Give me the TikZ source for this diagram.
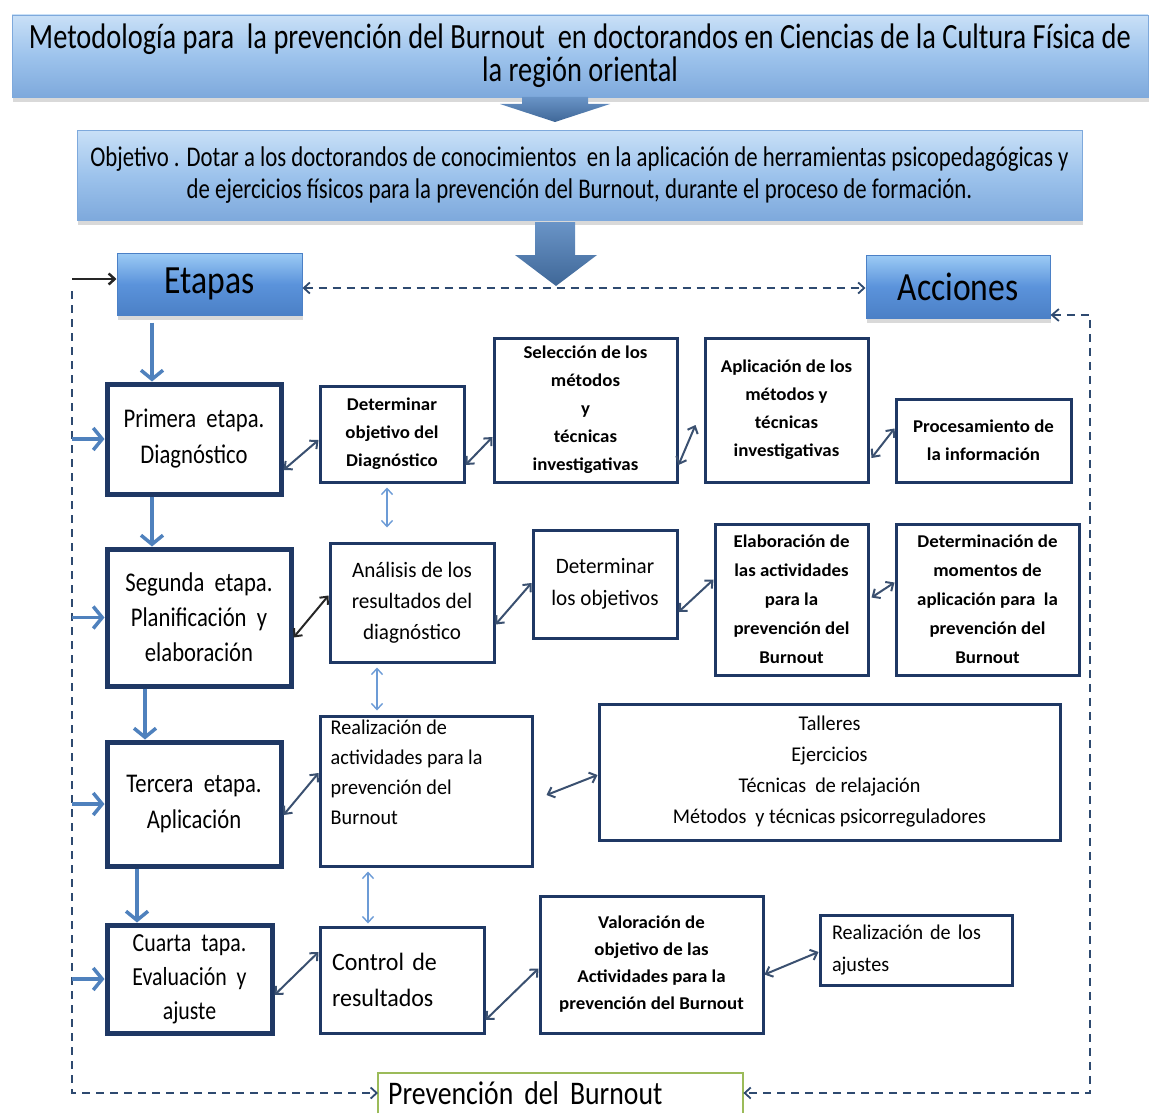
\documentclass[tikz,border=0pt]{standalone}
\usepackage{fontspec}
\setmainfont[FakeStretch=0.84]{Carlito}
\newfontfamily\titlef[FakeStretch=0.8]{Carlito}
\newfontfamily\medf[FakeStretch=0.96]{Carlito}
\newfontfamily\smallf[FakeStretch=1.05]{Carlito}
\usetikzlibrary{arrows.meta,shadows,calc}
\definecolor{navy}{HTML}{1F3864}
\definecolor{arrblue}{HTML}{4F81BD}
\definecolor{lightarr}{HTML}{6C9BD6}
\definecolor{dashc}{HTML}{2E4A70}
\definecolor{dbl}{HTML}{3A5070}
\definecolor{titlefill}{HTML}{9DC3EC}
\definecolor{titletop}{HTML}{C9E0F7}
\definecolor{titlebot}{HTML}{7EA9DC}
\definecolor{btnfill}{HTML}{5B93DB}
\definecolor{btntop}{HTML}{9CCBF5}
\definecolor{btnbot}{HTML}{4B80C6}
\definecolor{prevgreen}{HTML}{9BBB59}
\tikzset{
  banner/.style={rectangle, inner sep=0pt, top color=titletop, bottom color=titlebot, middle color=titlefill,
    draw=titlebot, line width=0.8pt, align=center,
    drop shadow={opacity=0.3, shadow xshift=1pt, shadow yshift=-5pt}},
  headbox/.style={rectangle, inner sep=0pt, top color=btntop, bottom color=btnbot, middle color=btnfill,
    draw=btnbot, line width=1pt, font=\fontsize{40}{40}\selectfont,
    drop shadow={opacity=0.3, shadow xshift=1pt, shadow yshift=-5pt}},
  stagebox/.style={rectangle, draw=navy, line width=5pt, fill=white, align=center, inner sep=0pt},
  actbox/.style={rectangle, draw=navy, line width=3pt, fill=white, align=center, inner sep=0pt},
  smallb/.style={font=\smallf\fontsize{18}{28}\selectfont\bfseries},
  flowarr/.style={draw=arrblue, line width=3.5pt, -{Straight Barb[length=9pt,width=22pt]}},
  linkarr/.style={draw=dbl, line width=2pt, {Straight Barb[length=6pt,width=11pt]}-{Straight Barb[length=6pt,width=11pt]}},
  vlinkarr/.style={draw=lightarr, line width=1.4pt, {Straight Barb[length=6pt,width=11pt]}-{Straight Barb[length=6pt,width=11pt]}},
  dashln/.style={draw=dashc, line width=1.8pt, dash pattern=on 8pt off 6pt},
  blockarr/.style={top color=arrblue!85!white, bottom color=arrblue!80!black, draw=none},
}
\begin{document}
\begin{tikzpicture}[x=1pt,y=-1pt]
\useasboundingbox (0,0) rectangle (1150,1113);

% banners
\node[banner, minimum width=1136, minimum height=82, font=\titlef\fontsize{35.5}{33}\selectfont] (title) at (580,56)
  {Metodología para~ la prevención del Burnout~ en doctorandos en Ciencias de la Cultura Física de\\ la región oriental};
\node[banner, minimum width=1005, minimum height=90, font=\titlef\fontsize{28.5}{32}\selectfont] (obj) at (579.5,175)
  {Objetivo . Dotar a los doctorandos de conocimientos~ en la aplicación de herramientas psicopedagógicas y\\ de ejercicios físicos para la prevención del Burnout, durante el proceso de formación.};

% block arrows
\path[blockarr] (522,97) -- (588,97) -- (588,104) -- (610,104) -- (555,122) -- (500,104) -- (522,104) -- cycle;
\path[blockarr] (535,222) -- (575,222) -- (575,255) -- (597,255) -- (556,286) -- (515,255) -- (535,255) -- cycle;

\node[headbox, minimum width=185, minimum height=62] (etapas) at (209.5,284) {Etapas};
\node[headbox, minimum width=184, minimum height=63] (acciones) at (958,286.5) {Acciones};

% stages
\node[stagebox, minimum width=174, minimum height=110, font=\fontsize{27}{36}\selectfont] (primera) at (194,439)
  {Primera~ etapa.\\ Diagnóstico};
\node[stagebox, minimum width=184, minimum height=137, font=\fontsize{27}{35}\selectfont] (segunda) at (199,617.5)
  {Segunda~ etapa.\\ Planificación~ y\\ elaboración};
\node[stagebox, minimum width=174, minimum height=124, font=\fontsize{27}{36}\selectfont] (tercera) at (194,804)
  {Tercera~ etapa.\\ Aplicación};
\node[stagebox, minimum width=165, minimum height=108, font=\fontsize{26}{34}\selectfont] (cuarta) at (189.5,979)
  {Cuarta~ tapa.\\ Evaluación~ y\\ ajuste};

% row 1
\node[actbox, smallb, minimum width=144, minimum height=96] (det1) at (392,434)
  {Determinar\\ objetivo del\\ Diagnóstico};
\node[actbox, smallb, minimum width=183, minimum height=144] (sel) at (585.5,410)
  {Selección de los\\ métodos\\ y\\ técnicas\\ investigativas};
\node[actbox, smallb, minimum width=163, minimum height=144] (apl) at (786.5,410)
  {Aplicación de los\\ métodos y\\ técnicas\\ investigativas};
\node[actbox, smallb, minimum width=175, minimum height=83] (proc) at (983.5,440.5)
  {Procesamiento de\\ la información};

% row 2
\node[actbox, minimum width=164, minimum height=119, font=\medf\fontsize{22}{31}\selectfont] (anal) at (412,602.5)
  {Análisis de los\\ resultados del\\ diagnóstico};
\node[actbox, minimum width=144, minimum height=108, font=\medf\fontsize{22}{32}\selectfont] (detobj) at (605,584)
  {Determinar\\ los objetivos};
\node[actbox, font=\smallf\fontsize{18}{29}\selectfont\bfseries, minimum width=153, minimum height=151] (elab) at (791.5,599.5)
  {Elaboración de\\ las actividades\\ para la\\ prevención del\\ Burnout};
\node[actbox, font=\smallf\fontsize{18}{29}\selectfont\bfseries, minimum width=183, minimum height=151] (detmom) at (987.5,599.5)
  {Determinación de\\ momentos de\\ aplicación para~ la\\ prevención del\\ Burnout};

% row 3
\node[actbox, minimum width=212, minimum height=150,
  label={[name=realizt, anchor=north west, align=left, inner sep=0pt, font=\medf\fontsize{21}{30}\selectfont]north west:{\hspace*{12pt}\rule{0pt}{20pt}Realización de\\ \hspace*{12pt}actividades para la\\ \hspace*{12pt}prevención del\\ \hspace*{12pt}Burnout}}] (realiz) at (426,791) {};
\node[actbox, minimum width=461, minimum height=136, font=\medf\fontsize{21}{31}\selectfont] (talleres) at (829.5,772)
  {Talleres\\ Ejercicios\\ Técnicas~ de relajación\\ Métodos~ y técnicas psicorreguladores};

% row 4
\node[actbox, minimum width=164, minimum height=106, align=left, text width=140, font=\medf\fontsize{25}{36}\selectfont] (control) at (402,980)
  {Control de\\ resultados};
\node[actbox, font=\smallf\fontsize{18}{27}\selectfont\bfseries, minimum width=223, minimum height=137] (valor) at (651.5,964.5)
  {Valoración de\\ objetivo de las\\ Actividades para la\\ prevención del Burnout};
\node[actbox, minimum width=192, minimum height=70, align=left, text width=168, font=\medf\fontsize{21}{32}\selectfont] (ajustes) at (916,950)
  {Realización de los\\ ajustes};

% prevention box
\node[minimum width=365, minimum height=40, anchor=north west, inner sep=0pt, align=left, text width=345,
  font=\fontsize{33}{33}\selectfont] (prev) at (378,1073) {Prevención del Burnout};
\draw[prevgreen, line width=2pt] (prev.south west) -- (prev.north west) -- (prev.north east) -- (prev.south east);

% flow arrows between stages
\draw[flowarr] ($(etapas.south)+(-57.5,7)$) -- ($(primera.north)+(-42,0)$);
\draw[flowarr] ($(primera.south)+(-42,0)$) -- ($(segunda.north)+(-47,0)$);
\draw[flowarr] ($(segunda.south)+(-54,0)$) -- ($(tercera.north)+(-49,0)$);
\draw[flowarr] ($(tercera.south)+(-57,0)$) -- ($(cuarta.north)+(-52.5,0)$);

% outer loop
\coordinate (ltop) at (72,279);
\coordinate (lbot) at (72,1093);
\coordinate (rtop) at (1090,315);
\coordinate (rbot) at (1090,1093);
\draw[draw=black!85, line width=2.5pt, -{Straight Barb[length=6pt,width=11pt]}] (ltop) -- (ltop -| etapas.west);
\draw[dashln, -{Straight Barb[length=6pt,width=11pt]}] ($(ltop)+(0,12)$) -- (lbot) -- (lbot -| prev.west);
\draw[dashln, {Straight Barb[length=7pt,width=12pt]}-{Straight Barb[length=6pt,width=11pt]}] (rtop -| acciones.east) -- (rtop) -- (rbot) -- (rbot -| prev.east);
\draw[dashln, {Straight Barb[length=6pt,width=11pt]}-{Straight Barb[length=6pt,width=11pt]}] (etapas.east |- 0,288) -- (acciones.west |- 0,288);

\draw[flowarr] (ltop |- primera.west) -- (primera.west);
\draw[flowarr] (ltop |- segunda.west) -- (segunda.west);
\draw[flowarr] (ltop |- tercera.west) -- (tercera.west);
\draw[flowarr] (ltop |- cuarta.west) -- (cuarta.west);

% diagonal links
\draw[linkarr] ($(primera.east)+(0,31)$) -- ($(det1.west)+(0,6)$);
\draw[linkarr] ($(det1.east)+(0,31)$) -- ($(sel.west)+(0,27)$);
\draw[linkarr] ($(sel.east)+(0,55)$) -- ($(apl.west)+(-8,15)$);
\draw[linkarr] ($(apl.east)+(2,48)$) -- ($(proc.west)+(0,-12)$);
\draw[linkarr, draw=black!85] ($(segunda.east)+(0,20)$) -- ($(anal.west)+(0,-7)$);
\draw[linkarr] ($(anal.east)+(0,22)$) -- ($(detobj.west)+(0,-1)$);
\draw[linkarr] ($(detobj.east)+(0,28)$) -- ($(elab.west)+(0,-20)$);
\draw[linkarr] ($(elab.east)+(2,-2)$) -- ($(detmom.west)+(0,-17)$);
\draw[linkarr] ($(tercera.east)+(0,11)$) -- ($(realiz.west)+(0,-18)$);
\draw[linkarr] ($(realiz.east)+(13,4)$) -- ($(talleres.west)+(0,3)$);
\draw[linkarr] ($(cuarta.east)+(0,16)$) -- ($(control.west)+(0,-28)$);
\draw[linkarr] ($(control.east)+(0,40)$) -- ($(valor.west)+(0,4)$);
\draw[linkarr] ($(valor.east)+(0,10)$) -- ($(ajustes.west)+(0,2)$);

% vertical light links
\draw[vlinkarr] ($(det1.south)+(-5,4)$) -- ($(anal.north)+(-25,-14)$);
\draw[vlinkarr] ($(anal.south)+(-35,4)$) -- ($(realiz.north)+(-49,-4)$);
\draw[vlinkarr] ($(realiz.south)+(-58,4)$) -- ($(control.north)+(-34,-2)$);
\end{tikzpicture}
\end{document}
